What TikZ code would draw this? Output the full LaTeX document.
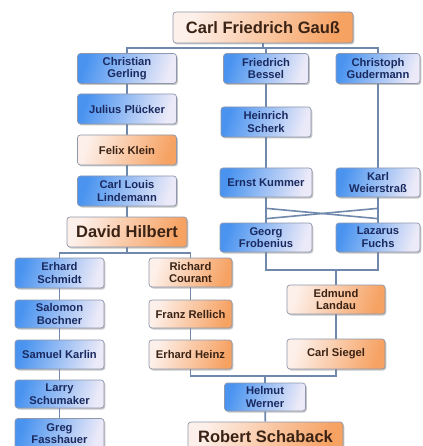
\documentclass[tikz,border=0pt]{standalone}
\usepackage{fontspec}
\setmainfont{Liberation Sans}
\usetikzlibrary{shadows,calc,backgrounds}
\definecolor{bA}{HTML}{4A94F0}
\definecolor{bB}{HTML}{ECEAF8}
\definecolor{oA}{HTML}{FDF0EA}
\definecolor{oB}{HTML}{F6A263}
\definecolor{bdr}{HTML}{8E97AB}
\definecolor{conn}{HTML}{6F88AC}
\definecolor{tBlue}{HTML}{1A2A60}
\definecolor{tOr}{HTML}{3A2214}
\begin{document}
\begin{tikzpicture}[x=1pt,y=-1pt,
  person/.style={rounded corners=3pt, draw=bdr, line width=0.7pt, align=center,
    inner sep=0pt, minimum height=30pt,
    font=\fontsize{11.2}{12.6}\selectfont\bfseries,
    drop shadow={shadow xshift=1.3pt, shadow yshift=-1.5pt, fill=black!50, opacity=0.45}},
  bluebox/.style={person, left color=bA, right color=bB, shading angle=72, text=tBlue},
  orbox/.style={person, left color=oA, right color=oB, shading angle=72, text=tOr},
  big/.style={font=\fontsize{16.5}{18}\selectfont\bfseries},
  link/.style={draw=conn, line width=1.6pt}]
\useasboundingbox (0,0) rectangle (422,446);
\clip (0,0) rectangle (422,446);
% top
\node[orbox, big, minimum width=180pt, minimum height=31pt] (gauss) at (263,27.5) {Carl Friedrich Gauß};
% left column
\node[bluebox, minimum width=99pt] (gerling) at (127,68.5) {Christian\\Gerling};
\node[bluebox, minimum width=99pt] (pluecker) at (127,109) {Julius Plücker};
\node[orbox, minimum width=99pt] (klein) at (127,150) {Felix Klein};
\node[bluebox, minimum width=99pt] (lindemann) at (127,191) {Carl Louis\\Lindemann};
\node[orbox, big, minimum width=120pt] (hilbert) at (127,232) {David Hilbert};
% middle columns
\node[bluebox, minimum width=85pt] (bessel) at (266,68.5) {Friedrich\\Bessel};
\node[bluebox, minimum width=84pt] (gudermann) at (378,68.5) {Christoph\\Gudermann};
\node[bluebox, minimum width=90pt] (scherk) at (266,122) {Heinrich\\Scherk};
\node[bluebox, minimum width=92pt, minimum height=29pt] (kummer) at (266,182.5) {Ernst Kummer};
\node[bluebox, minimum width=84pt, minimum height=29pt] (weierstrass) at (378,182.5) {Karl\\Weierstraß};
\node[bluebox, minimum width=92pt, minimum height=29pt] (frobenius) at (266,237.5) {Georg\\Frobenius};
\node[bluebox, minimum width=84pt, minimum height=29pt] (fuchs) at (378,237.5) {Lazarus\\Fuchs};
\node[orbox, minimum width=98pt, minimum height=29pt] (landau) at (336,299.5) {Edmund\\Landau};
\node[orbox, minimum width=98pt] (siegel) at (336,354) {Carl Siegel};
\node[bluebox, minimum width=81pt, minimum height=28pt] (werner) at (265,397) {Helmut\\Werner};
\node[orbox, big, minimum width=155pt] (schaback) at (265.5,437) {Robert Schaback};
% Hilbert's students
\node[bluebox, minimum width=89pt] (schmidt) at (59.5,273) {Erhard\\Schmidt};
\node[bluebox, minimum width=89pt, minimum height=28pt] (bochner) at (59.5,314) {Salomon\\Bochner};
\node[bluebox, minimum width=89pt, minimum height=29pt] (karlin) at (59.5,354.5) {Samuel Karlin};
\node[bluebox, minimum width=89pt, minimum height=28pt] (schumaker) at (59.5,394) {Larry\\Schumaker};
\node[bluebox, minimum width=89pt] (fasshauer) at (59.5,433.5) {Greg\\Fasshauer};
\node[orbox, minimum width=83pt, minimum height=29pt] (courant) at (190.5,272.5) {Richard\\Courant};
\node[orbox, minimum width=83pt, minimum height=28pt] (rellich) at (190.5,314) {Franz Rellich};
\node[orbox, minimum width=83pt, minimum height=29pt] (heinz) at (190.5,354.5) {Erhard Heinz};
% connectors
\begin{scope}[on background layer]
\coordinate (gbus) at (263,48);
\draw[link] (gauss.south) -- (gbus);
\draw[link] (gerling.north) |- (gbus) -| (gudermann.north);
\draw[link] (bessel.north) -- (bessel.north |- gbus);
\draw[link] (gerling) -- (pluecker) -- (klein) -- (lindemann) -- (hilbert);
\draw[link] (bessel) -- (scherk) -- (kummer);
\draw[link] (gudermann) -- (weierstrass);
\draw[link] (kummer) -- (frobenius);
\draw[link] (weierstrass) -- (fuchs);
\coordinate (kx) at ($(kummer.south)+(0,11)$);
\coordinate (wx) at ($(weierstrass.south)+(0,11)$);
\coordinate (fx) at ($(frobenius.north)+(0,-4)$);
\coordinate (ux) at ($(fuchs.north)+(0,-4)$);
\draw[link] (kx) -- (ux);
\draw[link] (wx) -- (fx);
\coordinate (fbus) at (336,270);
\draw[link] (frobenius.south) |- (fbus) -| (fuchs.south);
\draw[link] (fbus) -- (landau.north);
\draw[link] (landau) -- (siegel);
\coordinate (hbus) at (127,253);
\draw[link] (hilbert.south) -- (hbus);
\draw[link] (schmidt.north) |- (hbus) -| (courant.north);
\draw[link] (schmidt) -- (bochner) -- (karlin) -- (schumaker) -- (fasshauer);
\draw[link] (courant) -- (rellich) -- (heinz);
\coordinate (wbus) at (265,376);
\draw[link] (heinz.south) |- (wbus) -| (siegel.south);
\draw[link] (wbus) -- (werner.north);
\draw[link] (werner) -- (schaback);
\end{scope}
\end{tikzpicture}
\end{document}
